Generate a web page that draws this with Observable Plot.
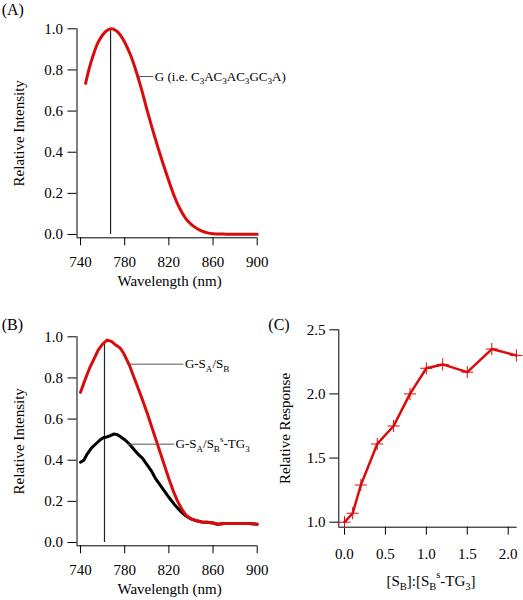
<!DOCTYPE html>
<html>
<head>
<meta charset="utf-8">
<script src="https://cdn.jsdelivr.net/npm/d3@7"></script>
<script src="https://cdn.jsdelivr.net/npm/@observablehq/plot@0.6"></script>
<style>
  html, body { margin: 0; padding: 0; background: #fff; }
  #wrap { position: relative; width: 523px; height: 600px; overflow: hidden; font-family: 'Liberation Serif', 'Times New Roman', serif; color: #000; }
  .panel-label { position: absolute; font-size: 16px; line-height: 16px; white-space: nowrap; }
</style>
</head>
<body>
<div id="wrap"></div>
<script>
// ---------------- data ----------------
const wavelengthTicks = [740, 780, 820, 860, 900];
const intensityTicks = [0, 0.2, 0.4, 0.6, 0.8, 1.0];
const ratioTicks = [0, 0.5, 1.0, 1.5, 2.0];
const responseTicks = [1.0, 1.5, 2.0, 2.5];

// Panel A: G (i.e. C3AC3AC3GC3A)
const wavelengthA = [744.6, 748, 752, 756, 760, 764, 768, 772, 776, 780, 785, 790, 795, 800, 805, 810, 815, 820, 825, 830, 835, 840, 845, 850, 855, 860, 870, 880, 890, 900];
const intensityA  = [0.735, 0.81, 0.88, 0.935, 0.97, 0.992, 1.0, 0.992, 0.97, 0.935, 0.876, 0.80, 0.71, 0.61, 0.515, 0.425, 0.34, 0.26, 0.185, 0.125, 0.08, 0.05, 0.03, 0.016, 0.008, 0.004, 0.002, 0.001, 0.001, 0.001];

// Panel B: G-SA/SB (red)
const wavelengthB1 = [740, 744, 748, 752, 756, 760, 764, 768, 772, 776, 779, 784, 790, 795, 800, 804, 808, 812, 816, 820, 824, 828, 832, 836, 840, 845, 850, 855, 860, 864, 868, 872, 876, 880, 885, 890, 895, 900];
const intensityB1  = [0.73, 0.79, 0.845, 0.89, 0.935, 0.965, 0.984, 0.978, 0.96, 0.945, 0.92, 0.865, 0.78, 0.71, 0.635, 0.57, 0.505, 0.44, 0.375, 0.31, 0.25, 0.20, 0.16, 0.13, 0.115, 0.106, 0.10, 0.098, 0.095, 0.089, 0.091, 0.093, 0.092, 0.093, 0.092, 0.093, 0.091, 0.089];

// Panel B: G-SA/SBs-TG3 (black)
const wavelengthB2 = [740, 743, 746, 750, 754, 758, 761, 764, 767, 770, 773, 776, 780, 784, 788, 792, 796, 800, 804, 808, 812, 816, 820, 825, 830, 835, 840, 845, 850, 855, 860, 864, 868, 872, 876, 880, 885, 890, 895, 900];
const intensityB2  = [0.39, 0.40, 0.43, 0.46, 0.48, 0.50, 0.51, 0.513, 0.52, 0.527, 0.525, 0.515, 0.50, 0.48, 0.455, 0.43, 0.41, 0.38, 0.35, 0.31, 0.28, 0.25, 0.22, 0.185, 0.155, 0.13, 0.115, 0.106, 0.10, 0.098, 0.095, 0.089, 0.091, 0.093, 0.092, 0.093, 0.092, 0.093, 0.091, 0.089];

// Panel C
const ratioC    = [0, 0.1, 0.2, 0.4, 0.6, 0.8, 1.0, 1.2, 1.5, 1.8, 2.1];
const responseC = [1.0, 1.07, 1.29, 1.61, 1.75, 2.0, 2.2, 2.23, 2.17, 2.35, 2.3];

// annotations (data units)
const peakA = [{wl: 767.2, lo: 0, hi: 1.0}];
const peakB = [{wl: 761.7, lo: 0, hi: 0.975}];
const notesA = [{x1: 792.8, x2: 806.4, y: 0.768, label: "G (i.e. C_{3}AC_{3}AC_{3}GC_{3}A)"}];
const notesB = [
  {x1: 783, x2: 833.6, y: 0.867, label: "G-S_{A}/S_{B}"},
  {x1: 783, x2: 825.1, y: 0.478, label: "G-S_{A}/S_{B}^{s}-TG_{3}"}
];
const panelLabels = ["(A)", "(B)", "(C)"];
const titleWavelength = "Wavelength (nm)";
const titleIntensity = "Relative Intensity";
const titleResponse = "Relative Response";
const titleRatio = "[S_{B}]:[S_{B}^{s}-TG_{3}]";

// ---------------- rendering ----------------
const RED = "#dc0b0b";
const FONT = "'Liberation Serif', 'Times New Roman', serif";
const wrap = document.getElementById("wrap");
const rows = (xs, ys) => xs.map((x, i) => ({x, y: ys[i]}));

function richify(svg) {
  svg.querySelectorAll("text").forEach((t) => {
    const s = t.textContent;
    if (!/[_^]\{/.test(s)) return;
    const fs = parseFloat(getComputedStyle(t).fontSize) || 15;
    t.textContent = "";
    const re = /([_^])\{([^}]*)\}|([^_^]+)/g;
    let cur = 0, m;
    while ((m = re.exec(s))) {
      const ts = document.createElementNS("http://www.w3.org/2000/svg", "tspan");
      let target = 0, txt;
      if (m[1]) {
        txt = m[2];
        ts.setAttribute("font-size", (fs * 0.7).toFixed(2));
        target = m[1] === "_" ? fs * 0.28 : -fs * 0.5;
      } else {
        txt = m[3];
      }
      const d = target - cur;
      if (Math.abs(d) > 1e-6) ts.setAttribute("dy", d.toFixed(2));
      ts.textContent = txt;
      t.appendChild(ts);
      cur = target;
    }
  });
}

function mount(svg, left, top) {
  svg.style.position = "absolute";
  svg.style.left = left + "px";
  svg.style.top = top + "px";
  wrap.appendChild(svg);
  richify(svg);
}

const svgStyle = {fontFamily: FONT, fontSize: "15px", color: "#000", background: "transparent", overflow: "visible"};
const wlDomain = [736.8, 900];
const intDomain = [-0.016, 1.0];

function spectrum(series, peak, notes) {
  return Plot.plot({
    width: 300, height: 300,
    marginLeft: 76.5, marginRight: 43.3, marginTop: 28.3, marginBottom: 62.7,
    style: svgStyle,
    x: {domain: wlDomain},
    y: {domain: intDomain},
    marks: [
      Plot.ruleX([wlDomain[0]], {stroke: "#000", strokeWidth: 1}),
      Plot.ruleY([intDomain[0]], {stroke: "#000", strokeWidth: 1}),
      Plot.axisX({ticks: wavelengthTicks, tickSize: 8, tickPadding: 10.6, tickFormat: d3.format("d"), label: null}),
      Plot.axisY({ticks: intensityTicks, tickSize: 9, tickPadding: 5, tickFormat: d3.format(".1f"), label: null}),
      Plot.text([titleWavelength], {text: (d) => d, frameAnchor: "bottom", lineAnchor: "middle", textAnchor: "middle", dy: 43.4, dx: 2.5}),
      Plot.text([titleIntensity], {text: (d) => d, frameAnchor: "left", lineAnchor: "middle", textAnchor: "middle", rotate: -90, dx: -58.2}),
      Plot.ruleX(peak, {x: "wl", y1: "lo", y2: "hi", stroke: "#222", strokeWidth: 1.2}),
      ...series.map((s) => Plot.line(s.data, {x: "x", y: "y", stroke: s.color, strokeWidth: 3, curve: s.curve || "linear"})),
      Plot.ruleY(notes, {y: "y", x1: "x1", x2: "x2", stroke: "#555", strokeWidth: 1}),
      Plot.text(notes, {x: "x2", y: "y", text: "label", textAnchor: "start", lineAnchor: "middle", dx: 1, fontSize: 13})
    ]
  });
}

const plotA = spectrum(
  [{data: rows(wavelengthA, intensityA), color: RED, curve: "catmull-rom"}],
  peakA, notesA
);
const plotB = spectrum(
  [{data: rows(wavelengthB2, intensityB2), color: "#000"}, {data: rows(wavelengthB1, intensityB1), color: RED}],
  peakB, notesB
);

const ratioDomain = [-0.0696, 2.11];
const respDomain = [0.961, 2.5];
const dataC = rows(ratioC, responseC);
const plotC = Plot.plot({
  width: 253, height: 300,
  marginLeft: 68.3, marginRight: 6.3, marginTop: 29.3, marginBottom: 73.3,
  style: svgStyle,
  x: {domain: ratioDomain},
  y: {domain: respDomain},
  marks: [
    Plot.ruleX([ratioDomain[0]], {stroke: "#000", strokeWidth: 1}),
    Plot.ruleY([respDomain[0]], {stroke: "#000", strokeWidth: 1}),
    Plot.axisX({ticks: ratioTicks, tickSize: 8, tickPadding: 13, tickFormat: d3.format(".1f"), label: null}),
    Plot.axisY({ticks: responseTicks, tickSize: 9, tickPadding: 4.3, tickFormat: d3.format(".1f"), label: null}),
    Plot.text([titleRatio], {text: (d) => d, frameAnchor: "bottom", lineAnchor: "middle", textAnchor: "middle", dy: 53.5, dx: 3}),
    Plot.text([titleResponse], {text: (d) => d, frameAnchor: "left", lineAnchor: "middle", textAnchor: "middle", rotate: -90, dx: -53.3}),
    Plot.line(dataC, {x: "x", y: "y", stroke: RED, strokeWidth: 2.5}),
    Plot.dot(dataC, {x: "x", y: "y", symbol: "plus", r: 4, stroke: RED, strokeWidth: 1})
  ]
});

mount(plotA, 0, 0);
mount(plotB, 0, 308.4);
mount(plotC, 270, 300);

const labelPos = [[1.7, 2.3], [1.7, 316.6], [268.3, 316.6]];
panelLabels.forEach((txt, i) => {
  const d = document.createElement("div");
  d.className = "panel-label";
  d.style.left = labelPos[i][0] + "px";
  d.style.top = labelPos[i][1] + "px";
  d.textContent = txt;
  wrap.appendChild(d);
});
</script>
</body>
</html>
